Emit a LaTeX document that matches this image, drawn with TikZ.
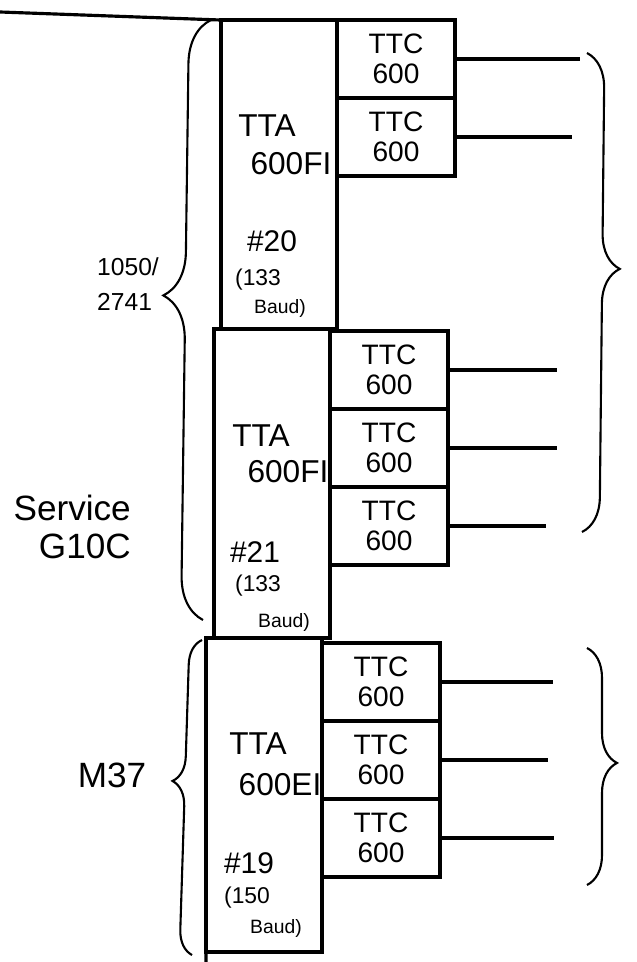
\documentclass[tikz,border=0pt]{standalone}
\usepackage{fontspec}
\setmainfont{Liberation Sans}
\usetikzlibrary{positioning,decorations.pathreplacing}

\begin{document}
\begin{tikzpicture}[x=0.02cm, y=-0.02cm,
    ttaBlock/.style={draw, line width=1.8pt, outer sep=0pt, minimum width=2.32cm, minimum height=6.18cm},
    ttcBox/.style={draw, line width=1.8pt, outer sep=0pt, minimum width=2.36cm, minimum height=1.56cm, align=center, font=\fontsize{16}{17}\selectfont},
    ttaName/.style={font=\fontsize{18}{20}\selectfont},
    ttaNum/.style={font=\fontsize{17}{19}\selectfont},
    ttaRate/.style={font=\fontsize{13}{15}\selectfont},
    ttaBaud/.style={font=\fontsize{11}{13}\selectfont},
    groupLabel/.style={font=\fontsize{20}{21.6}\selectfont},
    mainLine/.style={line width=1.8pt},
    wireLine/.style={line width=1.8pt},
    groupBrace/.style={decorate, line width=1.2pt}]

    \useasboundingbox (0,0) rectangle (636,962);

    % TTA column
    \node[ttaBlock] (ttaA) at (279, 174.5) {};
    \node[ttaBlock] (ttaB) at (272, 483.5) {};
    \node[ttaBlock, minimum height=6.28cm] (ttaC) at (264, 795) {};

    \coordinate (topLeft) at (0, 12);
    \coordinate (colBottom) at (206, 962);
    \draw[mainLine] (topLeft) -- (ttaA.north west);
    \draw[mainLine] (ttaC.south west) -- (colBottom);

    % TTA labels
    \node[ttaName] (ttaAname) at (267, 126) {TTA};
    \node[ttaName] (ttaAtype) at (291, 164) {600FI};
    \node[ttaNum] (ttaAnum) at (272, 241) {\#20};
    \node[ttaRate] (ttaArate) at (258, 280) {(133};
    \node[ttaBaud] (ttaAbaud) at (280, 308) {Baud)};

    \node[ttaName] (ttaBname) at (261, 436) {TTA};
    \node[ttaName] (ttaBtype) at (288, 472) {600FI};
    \node[ttaNum] (ttaBnum) at (255, 552) {\#21};
    \node[ttaRate] (ttaBrate) at (258, 586) {(133};
    \node[ttaBaud] (ttaBbaud) at (284, 622) {Baud)};

    \node[ttaName] (ttaCname) at (258, 744) {TTA};
    \node[ttaName] (ttaCtype) at (280, 785) {600EI};
    \node[ttaNum] (ttaCnum) at (249, 863) {\#19};
    \node[ttaRate] (ttaCrate) at (247, 898) {(150};
    \node[ttaBaud] (ttaCbaud) at (276, 928) {Baud)};

    % TTC boxes
    \node[ttcBox] (ttcA1) at (396, 59) {TTC\\600};
    \node[ttcBox, below=0pt of ttcA1] (ttcA2) {TTC\\600};

    \node[ttcBox] (ttcB1) at (389, 370) {TTC\\600};
    \node[ttcBox, below=0pt of ttcB1] (ttcB2) {TTC\\600};
    \node[ttcBox, below=0pt of ttcB2] (ttcB3) {TTC\\600};

    \node[ttcBox] (ttcC1) at (381, 682) {TTC\\600};
    \node[ttcBox, below=0pt of ttcC1] (ttcC2) {TTC\\600};
    \node[ttcBox, below=0pt of ttcC2] (ttcC3) {TTC\\600};

    \draw[mainLine] (ttaA.north east) -- (ttcA1.north west);

    % Lines out
    \coordinate[right=2.5cm of ttcA1] (wA1);
    \coordinate[right=2.34cm of ttcA2] (wA2);
    \coordinate[right=2.18cm of ttcB1] (wB1);
    \coordinate[right=2.18cm of ttcB2] (wB2);
    \coordinate[right=1.96cm of ttcB3] (wB3);
    \coordinate[right=2.26cm of ttcC1] (wC1);
    \coordinate[right=2.16cm of ttcC2] (wC2);
    \coordinate[right=2.28cm of ttcC3] (wC3);

    \draw[wireLine] (ttcA1.east) -- (wA1);
    \draw[wireLine] (ttcA2.east) -- (wA2);
    \draw[wireLine] (ttcB1.east) -- (wB1);
    \draw[wireLine] (ttcB2.east) -- (wB2);
    \draw[wireLine] (ttcB3.east) -- (wB3);
    \draw[wireLine] (ttcC1.east) -- (wC1);
    \draw[wireLine] (ttcC2.east) -- (wC2);
    \draw[wireLine] (ttcC3.east) -- (wC3);

    % Braces
    \coordinate (braceAbot) at (203, 620);
    \coordinate (braceAtop) at (211, 20);
    \coordinate (braceCbot) at (192, 955);
    \coordinate (braceCtop) at (202, 640);
    \coordinate (braceRAtop) at (587, 53);
    \coordinate (braceRAbot) at (582, 532);
    \coordinate (braceRCtop) at (587, 648);
    \coordinate (braceRCbot) at (587, 885);

    \draw[groupBrace, decoration={brace, amplitude=0.88cm, aspect=0.54}] (braceAbot) -- (braceAtop);
    \draw[groupBrace, decoration={brace, amplitude=0.5cm, aspect=0.55}] (braceCbot) -- (braceCtop);
    \draw[groupBrace, decoration={brace, amplitude=0.7cm, aspect=0.45}] (braceRAtop) -- (braceRAbot);
    \draw[groupBrace, decoration={brace, amplitude=0.6cm, aspect=0.485}] (braceRCtop) -- (braceRCbot);

    % Group labels
    \node[align=left, font=\fontsize{14}{20}\selectfont] (grpAlabel) at (128, 284) {1050/\\2741};
    \node[groupLabel, align=right, anchor=east] (grpBlabel) at (137, 527) {Service\\G10C};
    \node[groupLabel] (grpClabel) at (112, 775) {M37};
\end{tikzpicture}
\end{document}
